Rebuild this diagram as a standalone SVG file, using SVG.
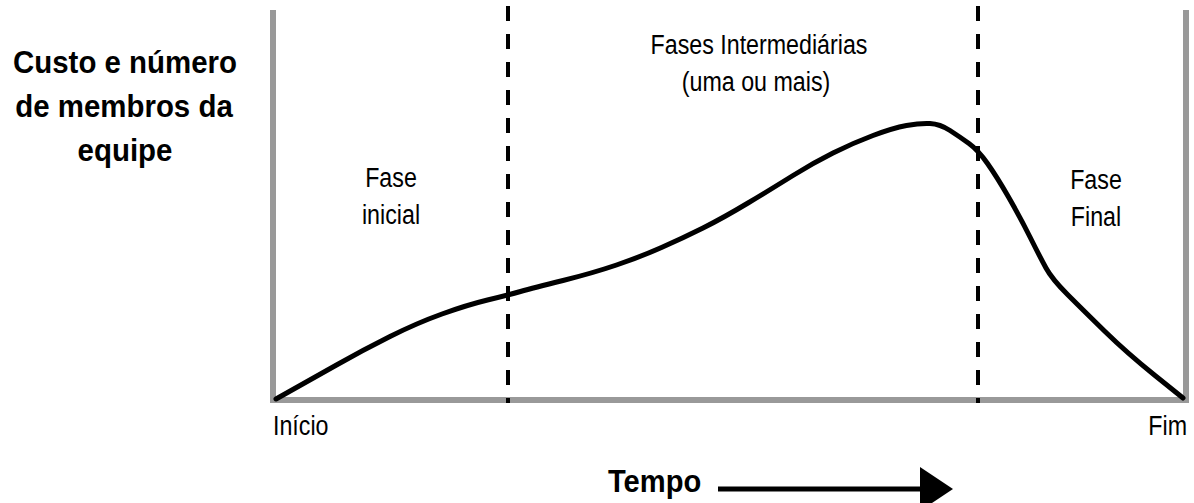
<svg xmlns="http://www.w3.org/2000/svg" width="1194" height="503" viewBox="0 0 1194 503">
  <style>
    .axis { stroke: #999999; stroke-width: 6; fill: none; }
    .div { stroke: #000000; stroke-width: 4; stroke-dasharray: 15 13; fill: none; }
    .curve { stroke: #000000; stroke-width: 5; fill: none; stroke-linejoin: round; stroke-linecap: round; }
    .lbl { font-family: "Liberation Sans", Arial, sans-serif; font-size: 28px; fill: #000000; }
    .bold { font-family: "Liberation Sans", Arial, sans-serif; font-size: 32px; font-weight: bold; fill: #000000; }
  </style>
  <rect width="1194" height="503" fill="#ffffff"/>
  <g id="axes">
    <line class="axis" x1="273" y1="10" x2="273" y2="403"/>
    <line class="axis" x1="270" y1="400" x2="1189" y2="400"/>
    <line class="axis" x1="1186" y1="10" x2="1186" y2="403"/>
  </g>
  <g id="connectors">
    <line class="div" x1="508" y1="6" x2="508" y2="403"/>
    <line class="div" x1="978" y1="6" x2="978" y2="403"/>
    <path class="curve" d="M276,399 Q310,380 336.5,365 Q363,350 390,336.5 Q417,323 442,314 Q467,305 487.5,300 Q508,295 520.5,291.5 Q533,288 563,280.5 Q593,273 616.5,265 Q640,257 661.5,247.5 Q683,238 703,228 Q723,218 748,203 Q773,188 793,175.5 Q813,163 833,153 Q853,143 873,135.5 Q893,128 906.5,125.5 Q920,123 930,123.5 Q940,124 950,130.5 Q960,137 969,143.5 Q978,150 987.5,163.5 Q997,177 1008.5,197 Q1020,217 1030,237 Q1040,257 1046,268 Q1052,279 1067.5,294.5 Q1083,310 1105,331.5 Q1127,353 1155,375.5 L1183,398"/>
    <line x1="718" y1="489" x2="922" y2="489" stroke="#000000" stroke-width="5"/>
    <polygon points="920,467 953,489 920,511" fill="#000000"/>
  </g>
  <g id="y-title">
    <text class="bold" text-anchor="middle" transform="translate(125,73) scale(0.92,1)">Custo e número</text>
    <text class="bold" text-anchor="middle" transform="translate(124,117) scale(0.92,1)">de membros da</text>
    <text class="bold" text-anchor="middle" transform="translate(125,161) scale(0.92,1)">equipe</text>
  </g>
  <g id="phase-initial">
    <text class="lbl" text-anchor="middle" transform="translate(391,187) scale(0.83,1)">Fase</text>
    <text class="lbl" text-anchor="middle" transform="translate(391,224) scale(0.83,1)">inicial</text>
  </g>
  <g id="phase-intermediate">
    <text class="lbl" text-anchor="middle" transform="translate(759,54) scale(0.83,1)">Fases Intermediárias</text>
    <text class="lbl" text-anchor="middle" transform="translate(756,91) scale(0.83,1)">(uma ou mais)</text>
  </g>
  <g id="phase-final">
    <text class="lbl" text-anchor="middle" transform="translate(1096,189) scale(0.83,1)">Fase</text>
    <text class="lbl" text-anchor="middle" transform="translate(1096,226) scale(0.83,1)">Final</text>
  </g>
  <g id="x-labels">
    <text class="lbl" transform="translate(273,435) scale(0.83,1)">Início</text>
    <text class="lbl" text-anchor="end" transform="translate(1187,435) scale(0.83,1)">Fim</text>
  </g>
  <g id="x-title">
    <text class="bold" transform="translate(608,492) scale(0.91,1)">Tempo</text>
  </g>
</svg>
